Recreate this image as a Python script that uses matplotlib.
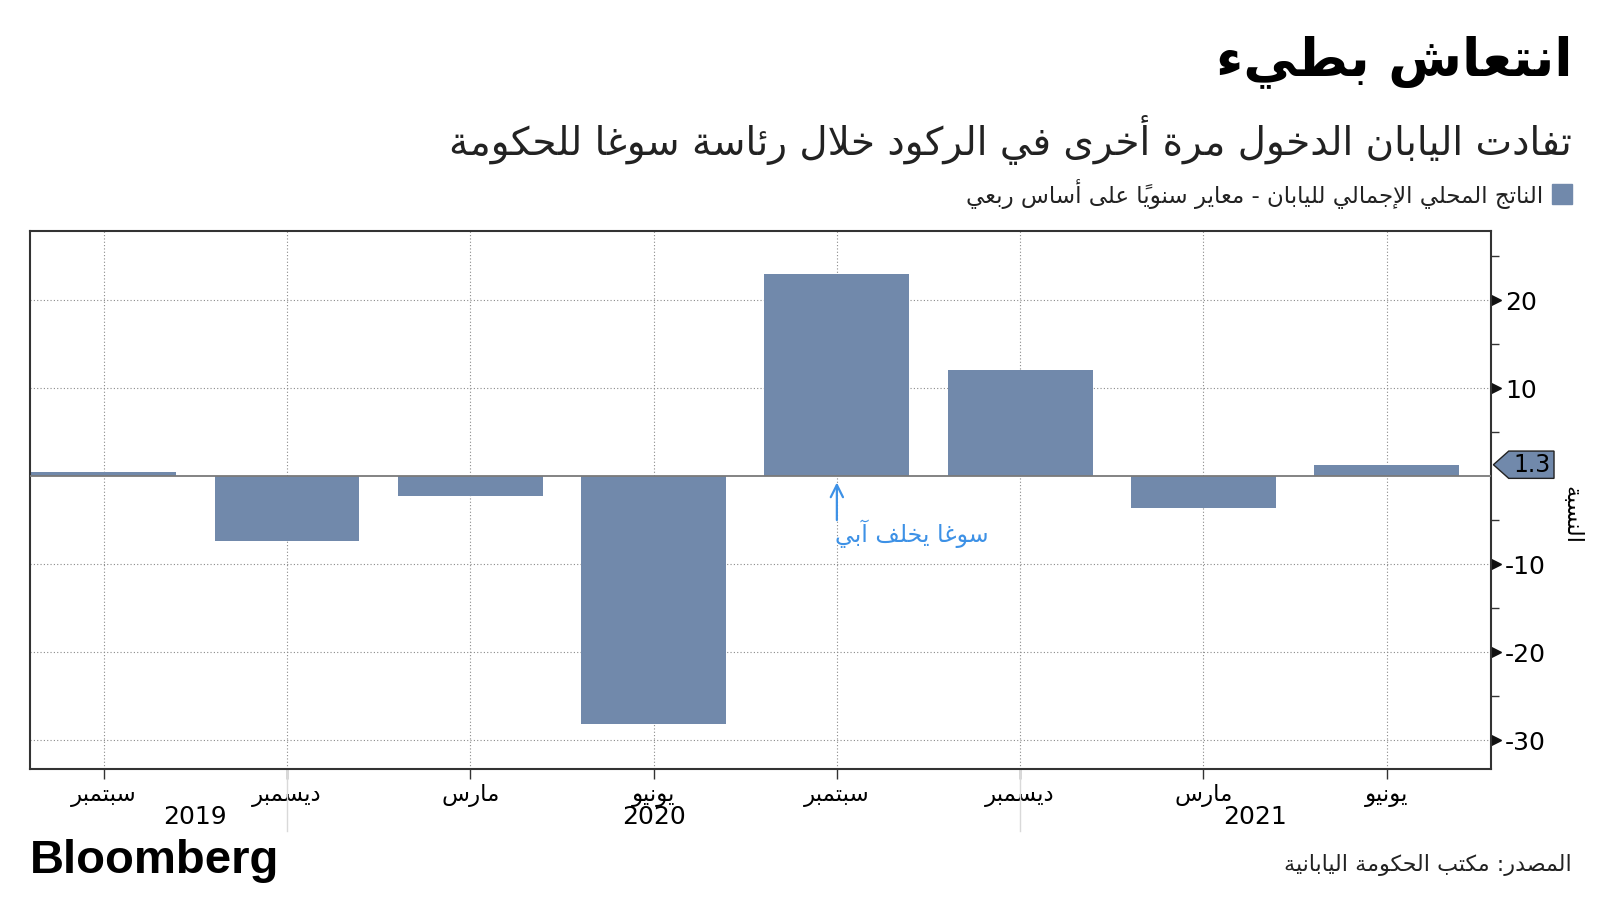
import matplotlib
matplotlib.use('Agg')
import matplotlib.pyplot as plt
import matplotlib.transforms as mtransforms
from matplotlib.patches import Polygon, Rectangle
import numpy as np

plt.rcParams['font.family'] = ['DejaVu Sans']
plt.rcParams['axes.unicode_minus'] = False

# data (annualized q/q GDP, Japan)
quarters = ['سبتمبر', 'ديسمبر', 'مارس', 'يونيو', 'سبتمبر', 'ديسمبر', 'مارس', 'يونيو']
gdp = [0.5, -7.4, -2.2, -28.1, 22.9, 12.0, -3.6, 1.3]
years = ['2019', '2020', '2021']
year_pos = [0.5, 3.0, 6.28]
year_breaks = [1, 5]
yticks = [-30, -20, -10, 10, 20]
yminor = [-25, -15, -5, 5, 15, 25]

title = 'انتعاش بطيء'
subtitle = 'تفادت اليابان الدخول مرة أخرى في الركود خلال رئاسة سوغا للحكومة'
legend_label = 'الناتج المحلي الإجمالي لليابان - معاير سنوياً على أساس ربعي'
note = 'سوغا يخلف آبي'
note_x = 4
ylabel = 'النسبة'
source = 'المصدر: مكتب الحكومة اليابانية'

# matplotlib does no Arabic shaping: swap letters for their presentation
# forms and flip the string to visual order by hand
FORMS = {'ء': (0xFE80, 1), 'آ': (0xFE81, 2), 'أ': (0xFE83, 2), 'ؤ': (0xFE85, 2),
         'إ': (0xFE87, 2), 'ئ': (0xFE89, 4), 'ا': (0xFE8D, 2), 'ب': (0xFE8F, 4),
         'ة': (0xFE93, 2), 'ت': (0xFE95, 4), 'ث': (0xFE99, 4), 'ج': (0xFE9D, 4),
         'ح': (0xFEA1, 4), 'خ': (0xFEA5, 4), 'د': (0xFEA9, 2), 'ذ': (0xFEAB, 2),
         'ر': (0xFEAD, 2), 'ز': (0xFEAF, 2), 'س': (0xFEB1, 4), 'ش': (0xFEB5, 4),
         'ص': (0xFEB9, 4), 'ض': (0xFEBD, 4), 'ط': (0xFEC1, 4), 'ظ': (0xFEC5, 4),
         'ع': (0xFEC9, 4), 'غ': (0xFECD, 4), 'ف': (0xFED1, 4), 'ق': (0xFED5, 4),
         'ك': (0xFED9, 4), 'ل': (0xFEDD, 4), 'م': (0xFEE1, 4), 'ن': (0xFEE5, 4),
         'ه': (0xFEE9, 4), 'و': (0xFEED, 2), 'ى': (0xFEEF, 2), 'ي': (0xFEF1, 4)}
LAM_ALEF = {'آ': 0xFEF5, 'أ': 0xFEF7, 'إ': 0xFEF9, 'ا': 0xFEFB}
MARKS = set(chr(c) for c in range(0x064B, 0x0653))


def ar(text):
    n = len(text)
    clusters = []
    prev_joins = False
    i = 0
    while i < n:
        c = text[i]
        if c in MARKS:
            if clusters:
                clusters[-1] += c
            i += 1
            continue
        if c not in FORMS:
            clusters.append(c)
            prev_joins = False
            i += 1
            continue
        j = i + 1
        while j < n and text[j] in MARKS:
            j += 1
        nxt = text[j] if j < n else None
        base, nforms = FORMS[c]
        if c == 'ل' and nxt in LAM_ALEF:
            clusters.append(chr(LAM_ALEF[nxt] + (1 if prev_joins else 0)))
            prev_joins = False
            i = j + 1
            continue
        join_next = nforms == 4 and nxt in FORMS and FORMS[nxt][1] > 1
        join_prev = prev_joins and nforms > 1
        if join_prev and join_next:
            g = base + 3
        elif join_next:
            g = base + 2
        elif join_prev:
            g = base + 1
        else:
            g = base
        clusters.append(chr(g))
        prev_joins = join_next
        i += 1
    return ''.join(reversed(clusters))


bar_color = '#7189ab'
blue = '#3d91e6'
dark = '#333333'

fig = plt.figure(figsize=(16, 9), dpi=100)
ax = fig.add_axes([0.019, 0.146, 0.913, 0.597])

x = np.arange(len(gdp))
ax.bar(x, gdp, width=0.79, color=bar_color, zorder=2)
ax.set_xlim(-0.4, 7.57)
ax.set_ylim(-33.2, 27.8)
ax.axhline(0, color='#7a7a7a', lw=1.3, zorder=3)
for y in yticks:
    ax.axhline(y, color='#8a8a8a', lw=0.8, ls=(0, (1, 2)), zorder=1)
for xi in x:
    ax.axvline(xi, color='#8a8a8a', lw=0.8, ls=(0, (1, 2)), zorder=1)

for s in ax.spines.values():
    s.set_color(dark)
    s.set_linewidth(1.5)

# y axis on the right, with triangle pointers on the major ticks
ax.yaxis.tick_right()
ax.set_yticks(yticks)
ax.set_yticks(yminor, minor=True)
ax.tick_params(axis='y', which='major', length=0, pad=10, labelsize=18)
ax.tick_params(axis='y', which='minor', length=6, width=1, color=dark)
tri = (mtransforms.blended_transform_factory(ax.transAxes, ax.transData)
       + mtransforms.ScaledTranslation(5 / 100, 0, fig.dpi_scale_trans))
ax.plot([1] * len(yticks), yticks, '>', ms=7, color='#111111',
        transform=tri, clip_on=False)

ax.set_xticks(x)
ax.set_xticklabels([ar(q) for q in quarters])
ax.tick_params(axis='x', length=7, width=1, color=dark, pad=4, labelsize=16.5)

# year labels and separators under the axis
yr = mtransforms.blended_transform_factory(ax.transData, fig.transFigure)
for lab, p in zip(years, year_pos):
    fig.text(p, 1 - 817 / 900, lab, transform=yr, ha='center', va='center', size=18)
sep = mtransforms.blended_transform_factory(ax.transData, ax.transAxes)
for b in year_breaks:
    ax.plot([b, b], [0, -0.117], transform=sep, color='#d9d9d9', lw=1, clip_on=False)

# last value tag
last = gdp[-1]
tag = mtransforms.blended_transform_factory(ax.transAxes, ax.transData)
ax.add_patch(Polygon([(1.0015, last), (1.012, last + 1.55), (1.043, last + 1.55),
                      (1.043, last - 1.55), (1.012, last - 1.55)],
                     closed=True, transform=tag, facecolor=bar_color,
                     edgecolor='#222222', lw=1, clip_on=False, zorder=5))
ax.text(1.028, last, f'{last:.1f}', transform=tag, ha='center', va='center',
        size=17, zorder=6)

# annotation
ax.annotate('', xy=(note_x, -0.4), xytext=(note_x, -5.3),
            arrowprops=dict(arrowstyle='->', color=blue, lw=1.6, mutation_scale=22))
ax.text(note_x - 0.01, -6.5, ar(note), color=blue, ha='left', va='center', size=17)

fig.text(1571 / 1600, 1 - 515 / 900, ar(ylabel), rotation=-90,
         ha='center', va='center', size=16)

# header
fig.text(1572 / 1600, 1 - 62 / 900, ar(title), ha='right', va='center',
         size=38.5, weight='bold')
fig.text(1572 / 1600, 1 - 140 / 900, ar(subtitle), ha='right', va='center', size=28,
         color='#222222')
fig.patches.append(Rectangle((1552 / 1600, 1 - 204 / 900), 20 / 1600, 20 / 900,
                             transform=fig.transFigure, color=bar_color))
fig.text(1543 / 1600, 1 - 194 / 900, ar(legend_label), ha='right', va='center',
         size=16.5, color='#222222')

# footer
fig.text(30 / 1600, 1 - 861 / 900, 'Bloomberg', ha='left', va='center',
         size=34, weight='bold', family='Liberation Sans')
fig.text(1572 / 1600, 1 - 865 / 900, ar(source), ha='right', va='center',
         size=16, color='#222222')

fig.savefig('out.png', dpi=100)
